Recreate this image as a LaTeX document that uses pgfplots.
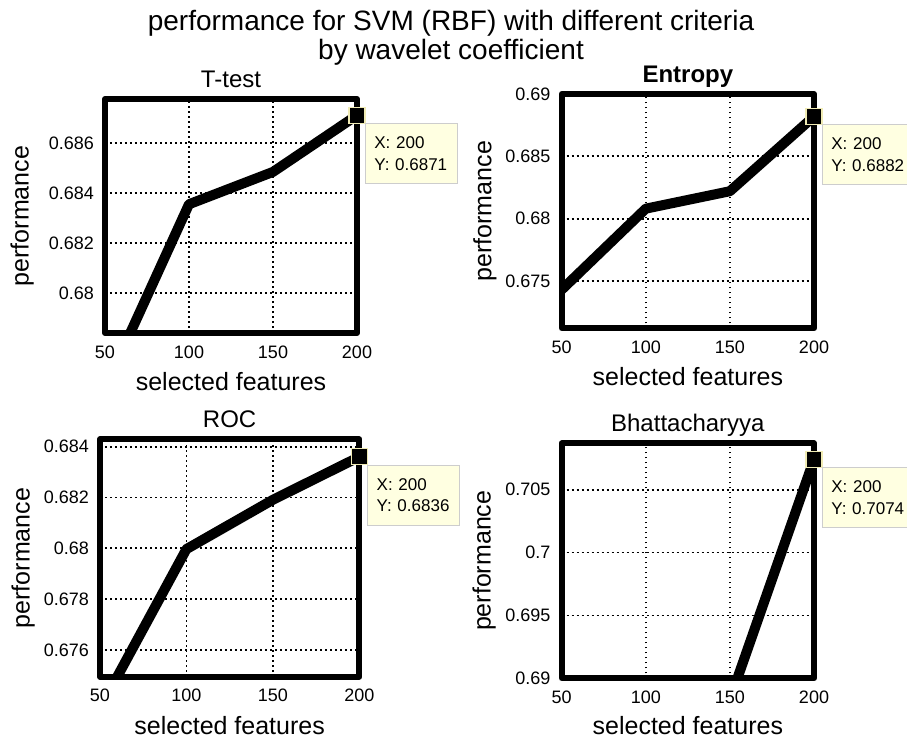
\documentclass[border=0pt]{standalone}
\usepackage{pgfplots}
\pgfplotsset{compat=1.18}
\usepackage{fontspec}
\setmainfont{Liberation Sans}
\definecolor{tipbg}{RGB}{255,255,225}
\definecolor{tipedge}{RGB}{205,205,205}
\definecolor{mkedge}{RGB}{240,235,180}

\tikzset{
  tipbox/.style={anchor=north west, draw=tipedge, fill=tipbg, line width=0.8pt, text width=74pt, inner xsep=9pt, minimum height=60pt, align=left, font=\fontsize{17}{21.6}\selectfont, xshift=8pt, yshift=-8pt},
}
\pgfplotsset{
  panel/.style={
    scale only axis,
    xmin=50, xmax=200, xtick={50,100,150,200},
    grid=major,
    major grid style={black, line width=1.8pt, dash pattern=on 1.8pt off 3.2pt},
    axis line style={line width=6pt, line join=round},
    major tick length=0pt,
    tick style={draw=none},
    ticklabel style={font=\fontsize{18}{20}\selectfont},
    /pgf/number format/assume math mode=true,
    scaled y ticks=false,
    scaled x ticks=false,
    yticklabel={\pgfmathprintnumber[fixed,precision=3]{\tick}},
    xticklabel style={anchor=center, yshift=-19pt, inner sep=0pt},
    yticklabel style={anchor=east, xshift=-11pt, inner sep=0pt},
    xlabel={selected features},
    ylabel={performance},
    label style={font=\fontsize{25}{28}\selectfont, inner sep=0pt},
    xlabel style={anchor=center},
    ylabel style={anchor=center},
    title style={at={(axis description cs:0.5,1)}, anchor=base, yshift=6pt, font=\fontsize{24}{26}\selectfont},
    clip mode=individual,
  },
  dataline/.style={black, line width=10pt, line join=round, no marks},
  tipmark/.style={only marks, mark=square*, mark size=8pt, mark options={fill=black, draw=mkedge, line width=1.2pt}},
}

\begin{document}
\begin{tikzpicture}
\path[use as bounding box] (0,0) rectangle (907pt,-739pt);

\node[anchor=base, font=\fontsize{28}{30}\selectfont] at (451pt,-30pt) {performance for SVM (RBF) with different criteria};
\node[anchor=base, font=\fontsize{28}{30}\selectfont] at (451pt,-59pt) {by wavelet coefficient};

% T-test
\begin{axis}[panel, at={(105pt,-99pt)}, anchor=north west, width=252pt, height=234pt,
  ymin=0.67841, ymax=0.68775, ytick={0.68,0.682,0.684,0.686},
  title={T-test},
  xlabel style={at={(axis description cs:0.5,-0.208)}},
  ylabel style={at={(axis description cs:-0.329,0.5)}}]
\addplot[dataline] coordinates {(50,0.6762) (100,0.68355) (150,0.68484) (200,0.6871)};
\addplot[tipmark] coordinates {(200,0.6871)};
\node[tipbox] at (axis cs:200,0.6871) {X: 200\\Y: 0.6871};
\end{axis}

% Entropy
\begin{axis}[panel, at={(561.7pt,-94pt)}, anchor=north west, width=252.3pt, height=234.3pt,
  ymin=0.6712, ymax=0.69, ytick={0.675,0.68,0.685,0.69},
  title={Entropy}, title style={font=\bfseries\fontsize{24}{26}\selectfont},
  xlabel style={at={(axis description cs:0.5,-0.2066)}},
  ylabel style={at={(axis description cs:-0.304,0.5)}}]
\addplot[dataline] coordinates {(50,0.6743) (100,0.6808) (150,0.6822) (200,0.6882)};
\addplot[tipmark] coordinates {(200,0.6882)};
\node[tipbox] at (axis cs:200,0.6882) {X: 200\\Y: 0.6882};
\end{axis}

% ROC
\begin{axis}[panel, at={(100pt,-439.3pt)}, anchor=north west, width=259.3pt, height=237.4pt,
  ymin=0.67495, ymax=0.68429, ytick={0.676,0.678,0.68,0.682,0.684},
  title={ROC},
  xlabel style={at={(axis description cs:0.5,-0.2045)}},
  ylabel style={at={(axis description cs:-0.296,0.5)}}]
\addplot[dataline] coordinates {(50,0.6737) (100,0.67997) (150,0.68191) (200,0.6836)};
\addplot[tipmark] coordinates {(200,0.6836)};
\node[tipbox] at (axis cs:200,0.6836) {X: 200\\Y: 0.6836};
\end{axis}

% Bhattacharyya
\begin{axis}[panel, at={(561.7pt,-443.3pt)}, anchor=north west, width=252.3pt, height=235pt,
  ymin=0.69, ymax=0.70868, ytick={0.69,0.695,0.7,0.705},
  title={Bhattacharyya},
  xlabel style={at={(axis description cs:0.5,-0.202)}},
  ylabel style={at={(axis description cs:-0.307,0.5)}}]
\addplot[dataline] coordinates {(50,0.6805) (100,0.6852) (150,0.6883) (200,0.7074)};
\addplot[tipmark] coordinates {(200,0.7074)};
\node[tipbox] at (axis cs:200,0.7074) {X: 200\\Y: 0.7074};
\end{axis}
\end{tikzpicture}
\end{document}
